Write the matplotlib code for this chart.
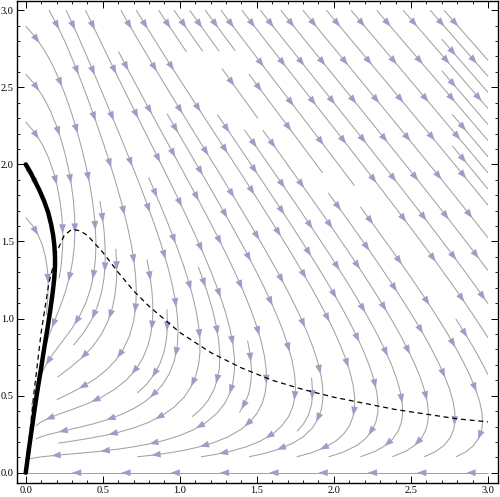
import numpy as np
import matplotlib
matplotlib.use("Agg")
import matplotlib.pyplot as plt
from matplotlib.ticker import MultipleLocator
from matplotlib.patches import Polygon

# parametro do modelo (campo de direcoes)
a = 0.1

# nullclina tracejada
null_x = [0.0, 0.05, 0.1, 0.15, 0.2, 0.25, 0.3, 0.35, 0.4, 0.5, 0.6, 0.7, 0.8,
          1.0, 1.2, 1.4, 1.6, 1.8, 2.0, 2.2, 2.4, 2.6, 2.8, 3.0]
null_y = [0.0, 0.49, 0.91, 1.23, 1.43, 1.54, 1.58, 1.57, 1.54, 1.43, 1.30, 1.18,
          1.08, 0.91, 0.78, 0.68, 0.60, 0.54, 0.49, 0.45, 0.41, 0.38, 0.35, 0.33]

# trajetoria grossa
traj_x = [0.0, 0.03, 0.06, 0.09, 0.12, 0.145, 0.165, 0.178, 0.186, 0.19, 0.19,
          0.185, 0.175, 0.16, 0.14, 0.12, 0.10, 0.08, 0.06, 0.04, 0.02, 0.0]
traj_y = [2.0, 1.95, 1.89, 1.83, 1.76, 1.69, 1.61, 1.54, 1.47, 1.40, 1.34,
          1.26, 1.17, 1.06, 0.93, 0.81, 0.68, 0.56, 0.43, 0.29, 0.15, 0.0]

fig = plt.figure(figsize=(5.0, 4.97), dpi=100)
ax = fig.add_axes([0.033, 0.028, 0.963, 0.97])

X, Y = np.meshgrid(np.linspace(0, 3, 120), np.linspace(0, 3, 120))
U = -X + a * Y + X**2 * Y
V = -a * Y - X**2 * Y

sp = ax.streamplot(X, Y, U, V, density=1.0, color='#a2a2a2', linewidth=0.75,
                   arrowsize=0.1)
for p in list(ax.patches):
    p.remove()

# junta os segmentos em linhas continuas (ou usa a linha inteira)
segs = sp.lines.get_segments()
linhas = []
atual = []
for s in segs:
    s = np.asarray(s)
    if len(s) > 2:
        if len(atual) > 1:
            linhas.append(np.array(atual))
        atual = []
        linhas.append(s)
        continue
    if len(atual) > 0 and np.hypot(*(atual[-1] - s[0])) < 1e-9:
        atual.append(s[-1])
    else:
        if len(atual) > 1:
            linhas.append(np.array(atual))
        atual = [s[0], s[-1]]
if len(atual) > 1:
    linhas.append(np.array(atual))

# varias setas em cada linha (triangulos)
passo = 0.32
comp = 0.06
larg = 0.022
for ln in linhas:
    d = np.r_[0, np.cumsum(np.hypot(np.diff(ln[:, 0]), np.diff(ln[:, 1])))]
    if d[-1] < 0.14:
        continue
    for s0 in np.arange(0.14, d[-1] - 0.02, passo):
        px = np.interp(s0, d, ln[:, 0])
        py = np.interp(s0, d, ln[:, 1])
        qx = np.interp(s0 - comp, d, ln[:, 0])
        qy = np.interp(s0 - comp, d, ln[:, 1])
        dx, dy = px - qx, py - qy
        n = np.hypot(dx, dy)
        if n == 0:
            continue
        dx, dy = dx / n, dy / n
        bx, by = px - comp * dx, py - comp * dy
        tri = [(px, py), (bx - larg * dy, by + larg * dx), (bx + larg * dy, by - larg * dx)]
        ax.add_patch(Polygon(tri, closed=True, facecolor='#9d9dc9',
                             edgecolor='none', zorder=2.5))

ax.plot(null_x, null_y, color='black', linestyle=(0, (4, 3)), linewidth=0.9,
        zorder=3)
ax.plot(traj_x, traj_y, color='black', linewidth=3.2, solid_capstyle='round',
        solid_joinstyle='round', zorder=4)

ax.set_xlim(-0.06, 3.065)
ax.set_ylim(-0.067, 3.06)

for s in ax.spines.values():
    s.set_linewidth(1.0)

ax.xaxis.set_major_locator(MultipleLocator(0.5))
ax.xaxis.set_minor_locator(MultipleLocator(0.1))
ax.yaxis.set_major_locator(MultipleLocator(0.5))
ax.yaxis.set_minor_locator(MultipleLocator(0.1))
ax.tick_params(which='both', direction='in', top=True, right=True,
               labelsize=7.5, pad=2)
ax.tick_params(which='major', length=5, width=0.7)
ax.tick_params(which='minor', length=2.5, width=0.6)
ax.xaxis.set_major_formatter(plt.FuncFormatter(lambda v, p: f'{v:.1f}'))
ax.yaxis.set_major_formatter(plt.FuncFormatter(lambda v, p: f'{v:.1f}'))
for lab in ax.get_xticklabels() + ax.get_yticklabels():
    lab.set_fontfamily('Liberation Serif')

plt.savefig('out.png', dpi=100)
